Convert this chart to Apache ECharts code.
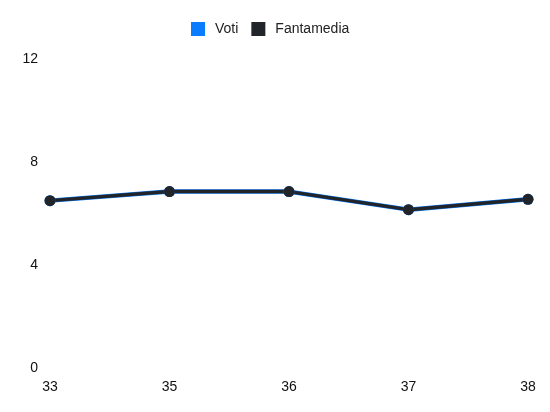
<!DOCTYPE html>
<html>
<head>
<meta charset="utf-8">
<script src="https://cdn.jsdelivr.net/npm/echarts@6/dist/echarts.min.js"></script>
<style>
    html, body { margin: 0; padding: 0; background: #fff; }
    #chart { width: 550px; height: 412px; }
</style>
</head>
<body>
<div id="chart"></div>
<script>
// giornate e voti
const giornate = ['33', '35', '36', '37', '38']
const voti = [6.5, 6.85, 6.85, 6.15, 6.55]
const fantamedia = [6.5, 6.85, 6.85, 6.15, 6.55]
const yTicks = { min: 0, max: 12, interval: 4 }

const chart = echarts.init(document.getElementById('chart'))
chart.setOption({
    animation: false,
    textStyle: { fontFamily: 'Arial, "Liberation Sans", sans-serif' },
    legend: {
        top: 17,
        left: 186,
        itemWidth: 14,
        itemHeight: 14,
        itemGap: 13,
        icon: 'rect',
        textStyle: { color: '#222', fontSize: 14, padding: [0, 0, 0, 5] },
        data: ['Voti', 'Fantamedia'],
    },
    grid: { left: 50, right: 22, top: 59, bottom: 44 },
    xAxis: {
        type: 'category',
        boundaryGap: false,
        data: giornate,
        axisLine: { show: false },
        axisTick: { show: false },
        axisLabel: { color: '#111', fontSize: 14, margin: 12 },
    },
    yAxis: {
        type: 'value',
        min: yTicks.min,
        max: yTicks.max,
        interval: yTicks.interval,
        splitLine: { show: false },
        axisLine: { show: false },
        axisTick: { show: false },
        axisLabel: { color: '#111', fontSize: 14, margin: 12 },
    },
    series: [
        {
            name: 'Voti', type: 'line', data: voti,
            symbol: 'circle', symbolSize: 11,
            itemStyle: { color: '#0a7cff' },
            lineStyle: { width: 4.5, color: '#0a7cff' },
        },
        {
            name: 'Fantamedia', type: 'line', data: fantamedia,
            symbol: 'circle', symbolSize: 11,
            itemStyle: { color: '#212428' },
            lineStyle: { width: 3.5, color: '#212428' },
        },
    ],
})
</script>
</body>
</html>
